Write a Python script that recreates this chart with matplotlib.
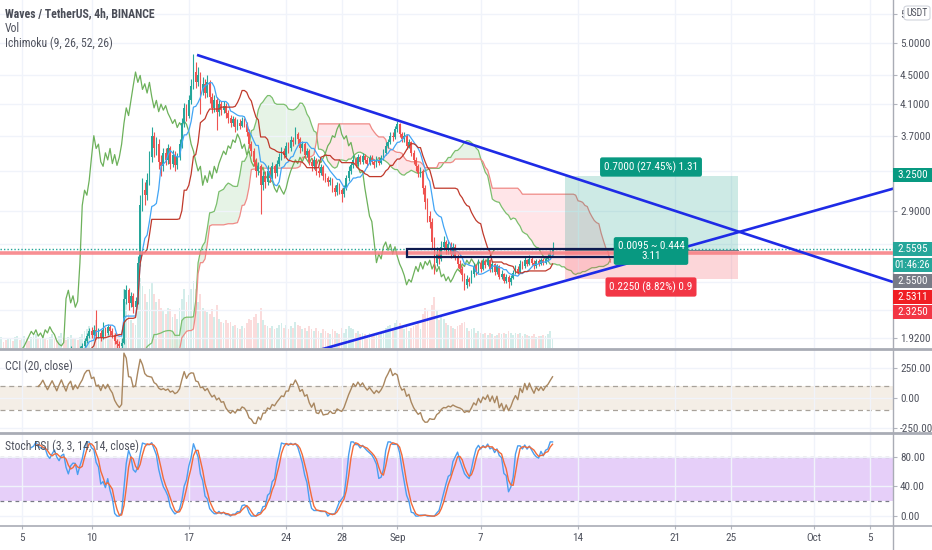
import numpy as np
import pandas as pd
import matplotlib
matplotlib.use("Agg")
import matplotlib.pyplot as plt
from matplotlib import font_manager
from matplotlib.patches import Rectangle, FancyBboxPatch
from matplotlib.lines import Line2D
import matplotlib.ticker as mticker

# ---------------- data (4h candles, WAVES/USDT) ----------------
first_candle_day = -2.0          # days relative to Aug 5 (first candle = Aug 3 00:00)
first_open = 1.63
close = [
    1.62,1.60,1.64,1.66,1.63,1.61,1.65,1.68,1.66,1.70,
    1.72,1.69,1.71,1.74,1.72,1.70,1.73,1.76,1.78,1.75,
    1.77,1.80,1.78,1.76,1.79,1.82,1.80,1.78,1.81,1.84,
    1.82,1.80,1.83,1.85,1.82,1.84,1.83,1.85,1.87,1.90,
    1.93,1.96,1.94,1.97,1.93,1.95,1.92,1.97,1.95,1.99,
    1.96,1.94,1.90,1.88,1.87,1.89,2.18,2.24,2.15,2.20,
    2.12,2.16,2.45,2.95,3.10,3.05,3.20,3.45,3.70,3.55,
    3.60,3.40,3.35,3.50,3.42,3.55,3.38,3.48,3.36,3.45,
    3.60,3.85,4.05,3.95,4.15,4.35,4.55,4.40,4.50,4.30,
    4.38,4.25,4.40,4.20,4.05,4.15,4.00,4.10,4.02,4.08,
    3.98,3.92,3.85,3.90,3.80,3.86,3.82,3.88,3.84,3.75,
    3.60,3.52,3.40,3.30,3.35,3.15,3.25,3.18,3.30,3.22,
    3.35,3.28,3.38,3.45,3.52,3.48,3.58,3.55,3.65,3.62,
    3.72,3.66,3.55,3.60,3.48,3.52,3.40,3.35,3.42,3.30,
    3.28,3.34,3.25,3.22,3.18,3.20,3.12,3.08,3.15,3.10,
    3.06,3.12,3.22,3.30,3.36,3.42,3.38,3.45,3.40,3.46,
    3.42,3.38,3.44,3.40,3.36,3.42,3.39,3.44,3.50,3.58,
    3.62,3.70,3.68,3.78,3.84,3.72,3.66,3.70,3.58,3.62,
    3.50,3.42,3.35,3.28,3.30,3.12,2.98,2.85,2.80,2.62,
    2.45,2.52,2.48,2.58,2.62,2.55,2.60,2.52,2.58,2.50,
    2.44,2.40,2.35,2.28,2.32,2.30,2.36,2.42,2.38,2.45,
    2.40,2.46,2.43,2.47,2.40,2.44,2.38,2.42,2.34,2.36,
    2.31,2.34,2.30,2.33,2.37,2.40,2.38,2.44,2.42,2.47,
    2.44,2.48,2.45,2.42,2.46,2.44,2.47,2.45,2.48,2.50,
    2.53,2.5595]
high = [
    1.65,1.64,1.66,1.68,1.67,1.65,1.67,1.70,1.70,1.72,
    1.75,1.73,1.73,1.76,1.75,1.73,1.75,1.78,1.80,1.79,
    1.79,1.82,1.81,1.79,1.81,1.84,1.83,1.81,1.83,1.86,
    1.85,1.83,1.85,1.87,1.86,1.86,1.86,1.87,1.89,1.92,
    1.95,1.98,1.99,2.00,2.10,1.98,1.97,2.02,1.99,2.01,
    2.00,1.98,1.95,1.91,1.90,1.92,2.25,2.28,2.26,2.23,
    2.22,2.19,2.50,3.05,3.22,3.18,3.28,3.52,3.80,3.75,
    3.68,3.66,3.48,3.56,3.55,3.60,3.58,3.53,3.52,3.50,
    3.66,3.92,4.12,4.10,4.22,4.45,4.82,4.70,4.62,4.55,
    4.48,4.45,4.50,4.44,4.25,4.22,4.20,4.16,4.14,4.14,
    4.12,4.02,3.96,3.95,3.93,3.90,3.90,3.93,3.92,3.87,
    3.78,3.64,3.55,3.44,3.40,3.38,3.30,3.30,3.36,3.34,
    3.40,3.38,3.42,3.50,3.57,3.55,3.62,3.62,3.70,3.69,
    3.80,3.75,3.68,3.64,3.62,3.56,3.54,3.44,3.46,3.44,
    3.34,3.38,3.36,3.28,3.25,3.24,3.22,3.15,3.18,3.17,
    3.12,3.15,3.26,3.35,3.40,3.47,3.45,3.49,3.48,3.50,
    3.49,3.45,3.48,3.47,3.43,3.46,3.45,3.48,3.54,3.62,
    3.66,3.74,3.74,3.82,3.88,3.86,3.75,3.74,3.72,3.66,
    3.64,3.53,3.45,3.38,3.34,3.32,3.15,3.02,2.90,2.83,
    2.66,2.58,2.56,2.63,2.67,2.64,2.64,2.62,2.61,2.60,
    2.52,2.47,2.42,2.37,2.35,2.34,2.39,2.45,2.44,2.48,
    2.47,2.49,2.48,2.50,2.48,2.46,2.45,2.44,2.43,2.39,
    2.37,2.36,2.35,2.35,2.39,2.43,2.42,2.47,2.46,2.50,
    2.48,2.51,2.50,2.47,2.48,2.48,2.49,2.49,2.50,2.53,
    2.55,2.62]
low = [
    1.60,1.58,1.59,1.63,1.62,1.59,1.60,1.64,1.65,1.65,
    1.69,1.67,1.68,1.70,1.70,1.68,1.69,1.72,1.75,1.74,
    1.74,1.76,1.77,1.74,1.75,1.78,1.78,1.76,1.77,1.80,
    1.80,1.78,1.79,1.82,1.81,1.81,1.82,1.82,1.84,1.86,
    1.89,1.92,1.92,1.93,1.91,1.92,1.90,1.91,1.93,1.94,
    1.94,1.92,1.88,1.85,1.84,1.85,1.88,2.14,2.10,2.12,
    2.08,2.10,2.14,2.42,2.90,2.95,3.00,3.15,3.40,3.45,
    3.48,3.32,3.25,3.30,3.36,3.38,3.32,3.34,3.30,3.32,
    3.42,3.56,3.80,3.88,3.92,4.10,4.30,4.32,4.35,3.97,
    4.22,4.18,4.20,4.12,3.98,4.00,3.77,3.95,3.96,3.98,
    3.92,3.86,3.80,3.82,3.75,3.77,3.78,3.80,3.80,3.70,
    3.55,3.46,3.35,3.24,3.26,2.87,3.10,3.12,3.15,3.18,
    3.20,3.22,3.25,3.35,3.42,3.44,3.45,3.50,3.52,3.58,
    3.60,3.60,3.50,3.52,3.44,3.45,3.36,3.30,3.32,3.26,
    3.24,3.26,3.20,3.18,3.14,3.15,3.08,3.04,3.05,3.06,
    2.98,3.03,3.10,3.19,3.27,3.33,3.34,3.35,3.37,3.38,
    3.39,3.34,3.36,3.37,3.33,3.34,3.36,3.37,3.42,3.48,
    3.55,3.60,3.64,3.66,3.75,3.68,3.62,3.63,3.54,3.55,
    3.46,3.38,3.30,3.24,3.24,3.06,2.92,2.80,2.74,2.56,
    2.36,2.42,2.44,2.46,2.55,2.52,2.52,2.49,2.50,2.47,
    2.41,2.37,2.31,2.24,2.26,2.27,2.29,2.34,2.35,2.37,
    2.38,2.39,2.41,2.42,2.38,2.38,2.35,2.36,2.32,2.32,
    2.29,2.29,2.26,2.28,2.32,2.36,2.36,2.37,2.40,2.41,
    2.42,2.43,2.43,2.40,2.41,2.42,2.43,2.43,2.44,2.46,
    2.48,2.51]
volume = [
    60,45,55,70,40,50,65,55,45,70,
    80,50,60,75,55,45,70,85,90,60,
    65,85,55,50,70,90,60,50,75,95,
    60,50,70,85,55,60,50,70,90,110,
    120,140,90,110,180,100,90,130,80,110,
    90,80,100,95,85,90,380,300,220,180,
    160,150,320,450,400,350,300,380,420,350,
    300,320,260,240,220,260,250,200,220,190,
    260,320,380,300,340,380,430,380,300,350,
    260,240,230,220,250,200,280,190,170,160,
    180,160,170,140,150,130,120,140,130,160,
    190,180,200,220,160,260,180,150,140,130,
    140,120,130,150,160,130,150,120,140,130,
    170,150,140,120,130,110,140,120,110,130,
    110,100,120,110,100,90,120,110,100,90,
    130,100,120,140,130,120,100,110,90,100,
    90,80,100,90,80,90,85,95,110,130,
    140,150,120,160,180,160,130,120,140,110,
    130,140,150,160,120,220,260,240,200,280,
    330,240,180,200,190,160,150,140,130,120,
    140,150,160,170,130,110,120,130,100,110,
    100,90,95,85,100,90,80,85,95,90,
    100,90,110,95,85,100,90,95,80,90,
    85,80,75,90,70,80,75,85,80,90,
    110,60]

# time axis (days from Aug 5)
tick_days = [0, 5, 12, 19, 23, 27, 33, 40, 47, 51, 57, 61]
tick_labels = ["5", "10", "17", "24", "28", "Sep", "7", "14", "21", "25", "Oct", "5"]

price_ticks = [5.5, 5.0, 4.5, 4.1, 3.7, 2.9, 1.92]
price_tick_labels = ["5", "5.0000", "4.5000", "4.1000", "3.7000", "2.9000", "1.9200"]
price_grid_extra = [3.3, 2.6, 2.3, 2.1]
cci_ticks = [250, 0, -250]
stoch_ticks = [80, 40, 0]

# drawings
desc_line = ([12.59, 62.66], [4.81, 2.301])
asc_line = ([19.0, 66.0], [1.79, 3.25])
hline_price = 2.5311
last_price = 2.5595
entry, target, stop = 2.55, 3.25, 2.325
pos_days = (39.06, 51.5)
rect_days = (27.7, 42.8)
rect_prices = (2.496, 2.557)

# ---------------- fonts ----------------
def pick_font():
    entries = font_manager.fontManager.ttflist
    fams = {f.name for f in entries}
    for key in ('Liberation Sans Narrow', 'Roboto Condensed', 'Open Sans Condensed',
                'DejaVu Sans Condensed', 'Noto Sans Condensed'):
        if key in fams:
            return key, 'normal', True
    for fam in ('Roboto', 'Noto Sans', 'Open Sans', 'DejaVu Sans', 'Liberation Sans'):
        for f in entries:
            if f.name == fam and str(f.stretch) in ('condensed', 'semi-condensed', '75', '87'):
                return fam, str(f.stretch), True
    return 'Liberation Sans', 'normal', False


base_font, base_stretch, narrow = pick_font()
plt.rcParams['font.family'] = [base_font, 'DejaVu Sans']
plt.rcParams['font.stretch'] = base_stretch
FS = 8 if narrow else 7
FT = 8.5 if narrow else 7.5

# ---------------- figure setup ----------------
W, H = 932, 550
TXT = '#50535E'
GRID = '#F0F3FA'
AXC = '#B2B5BE'

fig = plt.figure(figsize=(W / 100, H / 100), dpi=100)
fig.patch.set_facecolor('white')


def px_axes(x0, y0, x1, y1):
    return fig.add_axes([x0 / W, 1 - y1 / H, (x1 - x0) / W, (y1 - y0) / H])


def fx(px):
    return px / W


def fy(py):
    return 1 - py / H


XMIN, XMAX = -1.583, 62.66

axv = px_axes(0, 0, 893, 348)
ax = px_axes(0, 0, 893, 348)
ax_cci = px_axes(0, 349, 893, 432)
ax_st = px_axes(0, 433, 893, 525)
ax.patch.set_visible(False)

for a in (axv, ax, ax_cci, ax_st):
    for s in a.spines.values():
        s.set_visible(False)
    a.set_xlim(XMIN, XMAX)
    a.set_xticks(tick_days)
    a.tick_params(axis='x', length=0, labelbottom=False)
    a.grid(axis='x', color=GRID, lw=1, zorder=0)

axv.set_yticks([])
axv.grid(False)
axv.set_xticks([])

n = len(close)
idx = np.arange(n)
xs = first_candle_day + idx / 6.0
opens = np.array([first_open] + close[:-1])
cl = np.array(close)
hi = np.array(high)
lo = np.array(low)
vol = np.array(volume, dtype=float)
up = cl >= opens
UPC, DNC = '#26A69A', '#EF5350'
cols = np.where(up, UPC, DNC)

# volume
axv.bar(xs, vol, width=0.13, color=cols, alpha=0.2, linewidth=0)
axv.set_ylim(0, vol.max() * 5.0)

# main price axis
ax.set_yscale('log')
ax.set_ylim(1.857, 5.749)
ax.yaxis.tick_right()
ax.yaxis.set_minor_locator(mticker.NullLocator())
ax.set_yticks(price_ticks)
ax.set_yticklabels(price_tick_labels)
ax.tick_params(axis='y', length=3, color=AXC, labelsize=FS, labelcolor=TXT, pad=2)
ax.grid(axis='y', color=GRID, lw=1, zorder=0)
for g in price_grid_extra:
    ax.axhline(g, color=GRID, lw=1, zorder=0)

# ichimoku
sh, sl, sc = pd.Series(hi), pd.Series(lo), pd.Series(cl)


def mid(k):
    return ((sh.rolling(k).max() + sl.rolling(k).min()) / 2).values


tenkan = mid(9)
kijun = mid(26)
spanA = (tenkan + kijun) / 2
spanB = mid(52)
disp = 25
x_lead = xs + disp / 6.0
x_lag = xs - disp / 6.0
ax.fill_between(x_lead, spanA, spanB, where=spanA >= spanB, interpolate=True,
                color='#C8E6C9', alpha=0.45, lw=0, zorder=1)
ax.fill_between(x_lead, spanA, spanB, where=spanA < spanB, interpolate=True,
                color='#FFCDD2', alpha=0.5, lw=0, zorder=1)
ax.plot(x_lead, spanA, color='#7CBF6E', lw=0.9, zorder=2)
ax.plot(x_lead, spanB, color='#EF8A86', lw=0.9, zorder=2)
ax.plot(x_lag, cl, color='#6DB15B', lw=0.9, zorder=2)

# candles
ax.vlines(xs, lo, hi, colors=cols, lw=0.8, zorder=3)
body_bot = np.minimum(opens, cl)
body_h = np.maximum(np.abs(cl - opens), 0.004)
ax.bar(xs, body_h, bottom=body_bot, width=0.125, color=cols, linewidth=0, zorder=3)

ax.plot(xs, tenkan, color='#42A5F5', lw=0.9, zorder=4)
ax.plot(xs, kijun, color='#C0392B', lw=0.9, zorder=4)

# position tool
ax.add_patch(Rectangle((pos_days[0], entry), pos_days[1] - pos_days[0], target - entry,
                       facecolor='#089981', alpha=0.2, lw=0, zorder=5))
ax.add_patch(Rectangle((pos_days[0], stop), pos_days[1] - pos_days[0], entry - stop,
                       facecolor='#F23645', alpha=0.2, lw=0, zorder=5))
ax.plot(pos_days, [entry, entry], color='#787B86', lw=0.8, zorder=5)

# horizontal lines and rectangle
ax.axhline(hline_price, color='#F77C80', lw=2.6, alpha=0.85, zorder=6)
ax.axhline(last_price, color='#26A69A', lw=1, ls=(0, (1, 1.5)), zorder=6)
ax.add_patch(Rectangle((rect_days[0], rect_prices[0]), rect_days[1] - rect_days[0],
                       rect_prices[1] - rect_prices[0], fill=False,
                       edgecolor='#0D1A4F', lw=1.6, zorder=7))

# trend lines
ax.plot(*desc_line, color='#1E2BE6', lw=1.9, zorder=8, solid_capstyle='butt')
ax.plot(*asc_line, color='#1E2BE6', lw=1.9, zorder=8, solid_capstyle='butt')
ax.set_xlim(XMIN, XMAX)
ax.set_ylim(1.857, 5.749)

# ---------------- CCI ----------------
cci_ma = sc.rolling(20).mean()
cci_md = sc.rolling(20).apply(lambda v: np.mean(np.abs(v - v.mean())), raw=True)
cci = ((sc - cci_ma) / (0.015 * cci_md)).values
ax_cci.set_ylim(-283, 406)
ax_cci.axhspan(-100, 100, color='#F4EEE6', lw=0, zorder=0.5)
for lv in (100, -100):
    ax_cci.axhline(lv, color='#A8A29A', lw=0.9, ls=(0, (4, 3)), zorder=1)
ax_cci.plot(xs, cci, color='#A98760', lw=1, zorder=3)
ax_cci.yaxis.tick_right()
ax_cci.set_yticks(cci_ticks)
ax_cci.yaxis.set_major_formatter(mticker.FuncFormatter(lambda v, p: f"{v:.2f}"))
ax_cci.tick_params(axis='y', length=3, color=AXC, labelsize=FS, labelcolor=TXT, pad=2)
ax_cci.grid(axis='y', color=GRID, lw=1, zorder=0)

# ---------------- Stoch RSI ----------------
delta = sc.diff()
gain = delta.clip(lower=0).ewm(alpha=1 / 14, adjust=False).mean()
loss = (-delta.clip(upper=0)).ewm(alpha=1 / 14, adjust=False).mean()
rsi = 100 - 100 / (1 + gain / loss)
rmin = rsi.rolling(14).min()
rmax = rsi.rolling(14).max()
stoch = (rsi - rmin) / (rmax - rmin) * 100
k_line = stoch.rolling(3).mean().values
d_line = pd.Series(k_line).rolling(3).mean().values
ax_st.set_ylim(-12, 112)
ax_st.axhspan(20, 80, color='#E6CFF9', lw=0, zorder=0.5)
for lv in (80, 20):
    ax_st.axhline(lv, color='#787B86', lw=0.9, ls=(0, (3, 3)), zorder=1)
ax_st.plot(xs, k_line, color='#4A9FF0', lw=1, zorder=3)
ax_st.plot(xs, d_line, color='#F26B3A', lw=1, zorder=3)
ax_st.yaxis.tick_right()
ax_st.set_yticks(stoch_ticks)
ax_st.yaxis.set_major_formatter(mticker.FuncFormatter(lambda v, p: f"{v:.2f}"))
ax_st.tick_params(axis='y', length=3, color=AXC, labelsize=FS, labelcolor=TXT, pad=2)
ax_st.grid(axis='y', color=GRID, lw=1, zorder=0)
ax_st.set_xticklabels(tick_labels)
ax_st.tick_params(axis='x', length=3, color=AXC, labelsize=FS, labelcolor=TXT,
                  pad=3, labelbottom=True, direction='out')

# ---------------- frame lines ----------------
fig.add_artist(Line2D([fx(893), fx(893)], [0, 1], color='#A9ACB5', lw=1, transform=fig.transFigure))
for py, lw in ((348.5, 2), (432.5, 2), (525.5, 1.2)):
    fig.add_artist(Line2D([0, 1], [fy(py), fy(py)], color='#A9ACB5', lw=lw, transform=fig.transFigure))

# ---------------- texts ----------------
fig.text(fx(5), fy(14), "Waves / TetherUS, 4h, BINANCE", fontsize=FT, color='#4A4D57',
         weight='bold', va='center', ha='left')
fig.text(fx(5), fy(29), "Vol", fontsize=FT, color=TXT, va='center', ha='left')
fig.text(fx(5), fy(43), "Ichimoku (9, 26, 52, 26)", fontsize=FT, color=TXT, va='center', ha='left')
fig.text(fx(5), fy(366), "CCI (20, close)", fontsize=FT, color=TXT, va='center', ha='left')
fig.text(fx(5), fy(446), "Stoch RSI (3, 3, 14, 14, close)", fontsize=FT, color=TXT,
         va='center', ha='left')

# USDT badge (covers the rest of the top tick label)
fig.add_artist(FancyBboxPatch((fx(904), fy(20)), 26 / W, 14 / H,
                              boxstyle='round,pad=0,rounding_size=0.004',
                              facecolor='white', edgecolor='#D1D4DC', lw=0.8,
                              transform=fig.transFigure, zorder=20))
fig.text(fx(917), fy(13), "USDT", fontsize=FS - 1, color=TXT, ha='center', va='center', zorder=21)


def axis_label(py, text, bg, center=False):
    fig.add_artist(Rectangle((fx(893), fy(py + 7)), 39 / W, 14 / H, facecolor=bg,
                             edgecolor='none', transform=fig.transFigure, zorder=20))
    if center:
        fig.text(fx(912.5), fy(py), text, fontsize=FS - 0.5, color='white', ha='center',
                 va='center', zorder=21)
    else:
        fig.text(fx(897), fy(py), text, fontsize=FS, color='white', ha='left',
                 va='center', zorder=21)


axis_label(175, "3.2500", '#089981')
axis_label(249, "2.5595", '#26A69A')
axis_label(265, "01:46:26", '#26A69A', center=True)
axis_label(281, "2.5500", '#787B86')
axis_label(297, "2.5311", '#F01E23')
axis_label(312, "2.3250", '#F23645')


def tag(px, py, text, bg):
    fig.text(fx(px), fy(py), text, fontsize=FS, color='white', ha='center', va='center',
             linespacing=1.0, zorder=22,
             bbox=dict(boxstyle='round,pad=0.35,rounding_size=0.2', facecolor=bg,
                       edgecolor='none'))


tag(651, 167, "0.7000 (27.45%) 1.31", '#089981')
tag(651, 287, "0.2250 (8.82%) 0.9", '#F23645')
tag(651, 251, "0.0095 ~ 0.444\n3.11", '#089981')

fig.savefig("out.png", dpi=100, facecolor='white')
